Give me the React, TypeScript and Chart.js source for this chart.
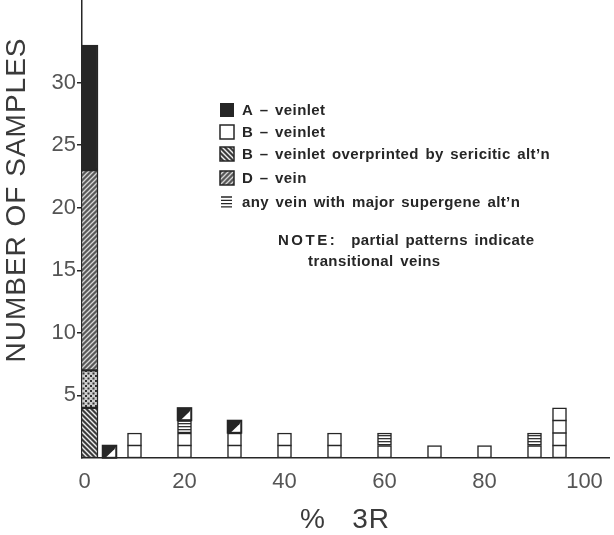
import React, { useEffect, useRef } from 'react';
import { Chart, registerables } from 'chart.js';

Chart.register(...registerables);

// ---- data ----
const binPositions = [1, 5, 10, 20, 30, 40, 50, 60, 70, 80, 90, 95];
const bVeinlet = [0, 0, 2, 2, 2, 2, 2, 1, 1, 1, 1, 4];
const bSericitic = [4, 0, 0, 0, 0, 0, 0, 0, 0, 0, 0, 0];
const transitionalMixed = [3, 0, 0, 0, 0, 0, 0, 0, 0, 0, 0, 0];
const supergene = [0, 0, 0, 1, 0, 0, 0, 1, 0, 0, 1, 0];
const dVein = [16, 0, 0, 0, 0, 0, 0, 0, 0, 0, 0, 0];
const transitionalA = [0, 1, 0, 1, 1, 0, 0, 0, 0, 0, 0, 0];
const aVeinlet = [10, 0, 0, 0, 0, 0, 0, 0, 0, 0, 0, 0];

const yTickValues = [5, 10, 15, 20, 25, 30];
const xTickValues = [0, 20, 40, 60, 80, 100];

const legendLabels = [
  'A \u2013 veinlet',
  'B \u2013 veinlet',
  'B \u2013 veinlet overprinted by sericitic alt\u2019n',
  'D \u2013 vein',
  'any vein with major supergene alt\u2019n',
];
const noteHead = 'NOTE:';
const noteLines = ['partial patterns indicate', 'transitional veins'];
const yTitle = 'NUMBER OF SAMPLES';
const xTitle = '%   3R';

const INK = '#262626';

function makePattern(kind: string): CanvasPattern | string {
  const c = document.createElement('canvas');
  const s = kind === 'lines' ? 3 : 5;
  c.width = s;
  c.height = s;
  const g = c.getContext('2d')!;
  if (kind === 'back') {
    g.fillStyle = '#3c3c3c';
    g.fillRect(0, 0, s, s);
    g.strokeStyle = '#eeeeee';
    g.lineWidth = 1.4;
    g.beginPath();
    g.moveTo(-1, -1); g.lineTo(s + 1, s + 1);
    g.moveTo(s - 1, -1); g.lineTo(s + 1, 1);
    g.moveTo(-1, s - 1); g.lineTo(1, s + 1);
    g.stroke();
  } else if (kind === 'fwd') {
    g.fillStyle = '#5a5a5a';
    g.fillRect(0, 0, s, s);
    g.strokeStyle = '#d6d6d6';
    g.lineWidth = 1.3;
    g.beginPath();
    g.moveTo(-1, s + 1); g.lineTo(s + 1, -1);
    g.moveTo(-1, 1); g.lineTo(1, -1);
    g.moveTo(s - 1, s + 1); g.lineTo(s + 1, s - 1);
    g.stroke();
  } else if (kind === 'checker') {
    g.fillStyle = '#cfcfcf';
    g.fillRect(0, 0, s, s);
    g.fillStyle = '#333';
    g.fillRect(0, 0, 2, 2);
    g.fillRect(2.5, 2.5, 2, 2);
  } else if (kind === 'lines') {
    g.fillStyle = '#ffffff';
    g.fillRect(0, 0, s, s);
    g.fillStyle = '#333';
    g.fillRect(0, 0, s, 1.3);
  }
  return g.createPattern(c, 'repeat')!;
}

function makeDecorPlugin(pats: any) {
  return {
    id: 'decor',
    afterDatasetsDraw(chart: any) {
      const ctx = chart.ctx as CanvasRenderingContext2D;
      chart.data.datasets.forEach((ds: any, di: number) => {
        const meta = chart.getDatasetMeta(di);
        meta.data.forEach((el: any, i: number) => {
          const raw = ds.data[i];
          const { x, y, base, width } = el.getProps(['x', 'y', 'base', 'width'], true);
          const left = x - width / 2;
          const right = x + width / 2;
          ctx.save();
          ctx.strokeStyle = INK;
          ctx.lineWidth = 1.5;
          if (ds.unitLines && raw.y > 1) {
            ctx.beginPath();
            for (let k = 1; k < raw.y; k++) {
              const yy = base - ((base - y) * k) / raw.y;
              ctx.moveTo(left, yy);
              ctx.lineTo(right, yy);
            }
            ctx.stroke();
          }
          if (ds.halfBlack) {
            ctx.fillStyle = INK;
            ctx.beginPath();
            ctx.moveTo(left, y);
            ctx.lineTo(right, y);
            ctx.lineTo(right - width * 0.15, y + (base - y) * 0.3);
            ctx.lineTo(left + width * 0.2, base);
            ctx.lineTo(left, base);
            ctx.closePath();
            ctx.fill();
            ctx.strokeRect(left, y, width, base - y);
          }
          ctx.restore();
        });
      });
    },
    afterDraw(chart: any) {
      const ctx = chart.ctx as CanvasRenderingContext2D;
      const c: any = ctx;
      ctx.save();
      // axis titles
      ctx.fillStyle = '#3a3a3a';
      ctx.font = '28px "Liberation Sans", Arial, sans-serif';
      ctx.textAlign = 'center';
      ctx.textBaseline = 'middle';
      c.letterSpacing = '1px';
      ctx.save();
      ctx.translate(17, 200);
      ctx.rotate(-Math.PI / 2);
      ctx.fillText(yTitle, 0, 0);
      ctx.restore();
      ctx.fillText(xTitle, 345, 520);

      // legend
      const rows = [110, 132, 154, 178, 202];
      const sx = 220;
      const sz = 14;
      ctx.textAlign = 'left';
      ctx.font = 'bold 15px "Liberation Sans", Arial, sans-serif';
      c.letterSpacing = '0.4px';
      c.wordSpacing = '2px';
      rows.forEach((ry, i) => {
        ctx.lineWidth = 1.5;
        ctx.strokeStyle = INK;
        if (i === 0) {
          ctx.fillStyle = INK;
          ctx.fillRect(sx, ry - sz / 2, sz, sz);
        } else if (i === 1) {
          ctx.fillStyle = '#fff';
          ctx.fillRect(sx, ry - sz / 2, sz, sz);
          ctx.strokeRect(sx, ry - sz / 2, sz, sz);
        } else if (i === 2) {
          ctx.fillStyle = pats.back;
          ctx.fillRect(sx, ry - sz / 2, sz, sz);
          ctx.strokeRect(sx, ry - sz / 2, sz, sz);
        } else if (i === 3) {
          ctx.fillStyle = pats.fwd;
          ctx.fillRect(sx, ry - sz / 2, sz, sz);
          ctx.strokeRect(sx, ry - sz / 2, sz, sz);
        } else {
          ctx.beginPath();
          for (let k = 0; k < 4; k++) {
            const yy = ry - 5 + k * 3.3;
            ctx.moveTo(sx + 1, yy);
            ctx.lineTo(sx + 12, yy);
          }
          ctx.lineWidth = 1.3;
          ctx.stroke();
        }
        ctx.fillStyle = INK;
        ctx.fillText(legendLabels[i], sx + 22, ry + 1);
      });

      // note
      c.letterSpacing = '2.5px';
      ctx.fillText(noteHead, 278, 241);
      const w = ctx.measureText(noteHead).width;
      c.letterSpacing = '0.4px';
      ctx.fillText(noteLines[0], 278 + w + 14, 241);
      ctx.fillText(noteLines[1], 308, 262);
      c.letterSpacing = '0px';
      c.wordSpacing = '0px';
      ctx.restore();
    },
  };
}

function series(values: number[]) {
  return binPositions
    .map((x, i) => ({ x, y: values[i] }))
    .filter((p) => p.y > 0);
}

export default function App() {
  const ref = useRef<HTMLCanvasElement>(null);
  useEffect(() => {
    document.body.style.margin = '0';
    const canvas = ref.current!;
    const pats = {
      back: makePattern('back'),
      fwd: makePattern('fwd'),
      checker: makePattern('checker'),
      lines: makePattern('lines'),
    };
    const common = {
      borderColor: INK,
      borderWidth: 1.5,
      borderSkipped: false,
    };
    const chart = new Chart(canvas, {
      type: 'bar',
      data: {
        datasets: [
          { label: 'B-veinlet', data: series(bVeinlet), backgroundColor: '#ffffff', barThickness: 14, unitLines: true, ...common },
          { label: 'B-veinlet overprinted by sericitic', data: series(bSericitic), backgroundColor: pats.back, barThickness: 17, ...common },
          { label: 'transitional', data: series(transitionalMixed), backgroundColor: pats.checker, barThickness: 17, ...common },
          { label: 'supergene', data: series(supergene), backgroundColor: pats.lines, barThickness: 14, unitLines: true, ...common },
          { label: 'D-vein', data: series(dVein), backgroundColor: pats.fwd, barThickness: 17, ...common },
          { label: 'transitional A', data: series(transitionalA), backgroundColor: '#ffffff', barThickness: 14, halfBlack: true, ...common },
          { label: 'A-veinlet', data: series(aVeinlet), backgroundColor: INK, barThickness: 17, ...common },
        ] as any,
      },
      options: {
        responsive: false,
        animation: false,
        layout: { padding: { top: 0, right: 4.5, bottom: 0, left: 0 } },
        plugins: { legend: { display: false }, tooltip: { enabled: false } },
        scales: {
          x: {
            type: 'linear',
            stacked: true,
            offset: false,
            min: -0.5,
            max: 105,
            afterBuildTicks: (s: any) => {
              s.ticks = xTickValues.map((v) => ({ value: v }));
            },
            afterFit: (s: any) => {
              s.height = 77;
              s.paddingLeft = 0;
              s.paddingRight = 0;
            },
            grid: { display: false },
            border: { display: true, color: INK, width: 1.5 },
            ticks: {
              color: '#555',
              padding: 3,
              maxRotation: 0,
              font: { family: '"Liberation Sans", Arial, sans-serif', size: 22 },
            },
          },
          y: {
            type: 'linear',
            stacked: true,
            min: 0,
            max: 36.6,
            afterBuildTicks: (s: any) => {
              s.ticks = yTickValues.map((v) => ({ value: v }));
            },
            afterFit: (s: any) => {
              s.width = 82;
              s.paddingTop = 0;
              s.paddingBottom = 0;
            },
            grid: { display: true, drawOnChartArea: false, drawTicks: true, tickLength: 5, color: INK, lineWidth: 1.5 },
            border: { display: true, color: INK, width: 1.5 },
            ticks: {
              color: '#555',
              padding: 1,
              font: { family: '"Liberation Sans", Arial, sans-serif', size: 22 },
            },
          },
        },
      } as any,
      plugins: [makeDecorPlugin(pats)],
    });
    return () => chart.destroy();
  }, []);
  return <canvas ref={ref} width={614} height={535} style={{ display: 'block' }} />;
}
